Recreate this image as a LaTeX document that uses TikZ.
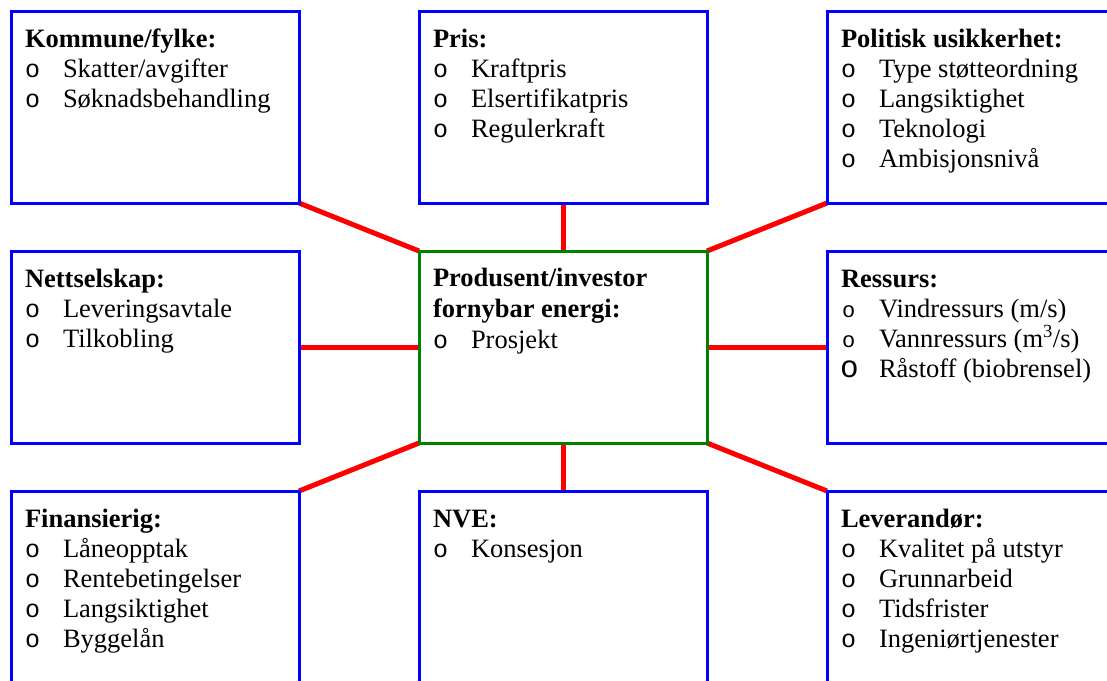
\documentclass[tikz,border=0pt]{standalone}
\usepackage{fontspec}
\setmainfont{Liberation Serif}
\newfontfamily\bulletfont{Liberation Mono}
\usetikzlibrary{calc,backgrounds}

\definecolor{boxblue}{RGB}{0,0,255}
\definecolor{hubgreen}{RGB}{0,128,0}
\definecolor{linkred}{RGB}{255,0,0}

\tikzset{
  panel/.style={draw=boxblue, line width=3pt, minimum width=288pt, minimum height=192pt,
                inner sep=0pt, outer sep=0pt, anchor=north west},
  hub/.style={panel, draw=hubgreen},
  link/.style={draw=linkred, line width=5pt},
  txt/.style={anchor=base west, inner sep=0pt, outer sep=0pt, font=\fontsize{26.5}{30}\selectfont},
  head/.style={txt, font=\fontsize{26.5}{30}\selectfont\bfseries},
  bullet/.style={txt, font=\fontsize{25}{30}\selectfont\bulletfont},
}

% heading plus bulleted entries inside a panel
\newcommand\fillpanel[3]{%
  \node[head] (#1-title) at ($(#1.north west)+(14,36)$) {#2};
  \foreach \entry [count=\k] in {#3} {
    \node[bullet] (#1-b\k) at ($(#1.north west)+(14,{36+30*\k})$) {o};
    \node[txt] (#1-i\k) at ($(#1.north west)+(52,{36+30*\k})$) {\entry};
  }%
}

\begin{document}
\begin{tikzpicture}[x=1pt, y=-1pt]
  \useasboundingbox (0,0) rectangle (1107,680);
  \clip (0,0) rectangle (1107,680);

  % panels
  \node[panel] (kommune)  at (11,11)   {};
  \node[panel] (pris)     at (419,11)  {};
  \node[panel] (politisk) at (827,11)  {};
  \node[panel] (nett)     at (11,251)  {};
  \node[hub]   (prod)     at (419,251) {};
  \node[panel] (ressurs)  at (827,251) {};
  \node[panel] (finans)   at (11,491)  {};
  \node[panel] (nve)      at (419,491) {};
  \node[panel] (lev)      at (827,491) {};

  % links to the central panel
  \begin{scope}[on background layer]
    \draw[link] (kommune.south east) -- (prod.north west);
    \draw[link] (pris.south)         -- (prod.north);
    \draw[link] (politisk.south west) -- (prod.north east);
    \draw[link] (nett.east)          -- (prod.west);
    \draw[link] (ressurs.west)       -- (prod.east);
    \draw[link] (finans.north east)  -- (prod.south west);
    \draw[link] (nve.north)          -- (prod.south);
    \draw[link] (lev.north west)     -- (prod.south east);
  \end{scope}

  % texts
  \fillpanel{kommune}{Kommune/fylke:}{Skatter/avgifter, Søknadsbehandling}
  \fillpanel{pris}{Pris:}{Kraftpris, Elsertifikatpris, Regulerkraft}
  \fillpanel{politisk}{Politisk usikkerhet:}{Type støtteordning, Langsiktighet, Teknologi, Ambisjonsnivå}
  \fillpanel{nett}{Nettselskap:}{Leveringsavtale, Tilkobling}
  \fillpanel{finans}{Finansierig:}{Låneopptak, Rentebetingelser, Langsiktighet, Byggelån}
  \fillpanel{nve}{NVE:}{Konsesjon}
  \fillpanel{lev}{Leverandør:}{Kvalitet på utstyr, Grunnarbeid, Tidsfrister, Ingeniørtjenester}

  % central panel
  \node[head]   (prod-title1) at ($(prod.north west)+(14,35)$) {Produsent/investor};
  \node[head]   (prod-title2) at ($(prod.north west)+(14,66)$) {fornybar energi:};
  \node[bullet] (prod-b1)     at ($(prod.north west)+(14,97)$) {o};
  \node[txt]    (prod-i1)     at ($(prod.north west)+(52,97)$) {Prosjekt};

  % resource panel (first two bullets smaller, last one larger)
  \node[head]   (ressurs-title) at ($(ressurs.north west)+(14,36)$) {Ressurs:};
  \node[bullet, font=\fontsize{22}{30}\selectfont\bulletfont] (ressurs-b1) at ($(ressurs.north west)+(15,66)$) {o};
  \node[txt]    (ressurs-i1) at ($(ressurs.north west)+(52,66)$) {Vindressurs (m/s)};
  \node[bullet, font=\fontsize{22}{30}\selectfont\bulletfont] (ressurs-b2) at ($(ressurs.north west)+(15,96)$) {o};
  \node[txt]    (ressurs-i2) at ($(ressurs.north west)+(52,96)$) {Vannressurs (m\textsuperscript{3}/s)};
  \node[bullet, font=\fontsize{31}{30}\selectfont\bulletfont] (ressurs-b3) at ($(ressurs.north west)+(13,126)$) {o};
  \node[txt]    (ressurs-i3) at ($(ressurs.north west)+(52,126)$) {Råstoff (biobrensel)};
\end{tikzpicture}
\end{document}
